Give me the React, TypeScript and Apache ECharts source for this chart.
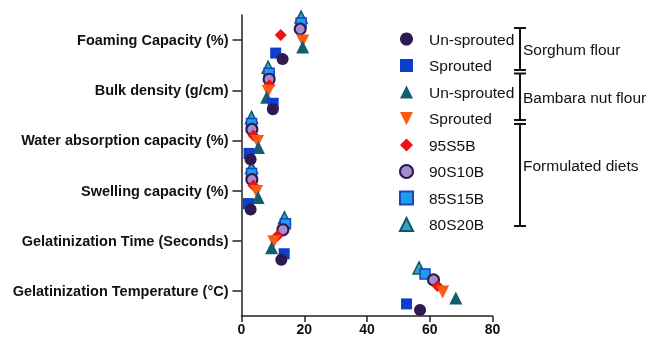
import React, { useEffect, useRef } from "react";
import * as echarts from "echarts";

const categories = [
  "Foaming Capacity (%)",
  "Bulk density (g/cm)",
  "Water absorption capacity (%)",
  "Swelling capacity (%)",
  "Gelatinization Time (Seconds)",
  "Gelatinization Temperature (°C)",
];

const unSproutedSorghum = [13.1, 10.0, 2.9, 2.9, 12.7, 56.9];
const sproutedSorghum = [10.9, 10.1, 2.4, 2.2, 13.6, 52.6];
const unSproutedBambara = [19.5, 8.0, 5.4, 5.3, 9.6, 68.3];
const sproutedBambara = [19.5, 8.5, 5.1, 4.8, 10.3, 64.1];
const diet95S5B = [12.5, 8.9, 3.8, 3.8, 11.5, 62.5];
const diet90S10B = [18.7, 8.8, 3.3, 3.3, 13.2, 61.2];
const diet85S15B = [19.0, 8.8, 3.2, 3.2, 14.0, 58.5];
const diet80S20B = [19.0, 8.5, 3.2, 3.2, 13.7, 56.6];

const legendLabels = ["Un-sprouted", "Sprouted", "Un-sprouted", "Sprouted", "95S5B", "90S10B", "85S15B", "80S20B"];
const groupLabels = ["Sorghum flour", "Bambara nut flour", "Formulated diets"];

const FONT = "'Liberation Sans', Arial, Helvetica, sans-serif";
const DOWN_TRIANGLE = "path://M0,0 L12,0 L6,12 Z";

export default function App() {
  const ref = useRef<HTMLDivElement>(null);
  useEffect(() => {
    if (!ref.current) return;
    const chart = echarts.init(ref.current, undefined, { renderer: "svg" });

    const defs = [
      { id: "Un-sprouted (Sorghum)", data: unSproutedSorghum, symbol: "circle", size: 12, color: "#2e1a4e", border: "#2e1a4e", bw: 0, rot: 0 },
      { id: "Sprouted (Sorghum)", data: sproutedSorghum, symbol: "rect", size: 11, color: "#0b3fcc", border: "#0b3fcc", bw: 0, rot: 0 },
      { id: "Un-sprouted (Bambara)", data: unSproutedBambara, symbol: "triangle", size: 13, color: "#115d72", border: "#115d72", bw: 0, rot: 0 },
      { id: "Sprouted (Bambara)", data: sproutedBambara, symbol: DOWN_TRIANGLE, size: 13, color: "#fb5a12", border: "#fb5a12", bw: 0, rot: 0 },
      { id: "95S5B", data: diet95S5B, symbol: "diamond", size: 12, color: "#ee1111", border: "#ee1111", bw: 0, rot: 0 },
      { id: "90S10B", data: diet90S10B, symbol: "circle", size: 11, color: "#a48ccf", border: "#2e1a4e", bw: 2, rot: 0 },
      { id: "85S15B", data: diet85S15B, symbol: "rect", size: 10, color: "#1e9cf0", border: "#1844c4", bw: 1.5, rot: 0 },
      { id: "80S20B", data: diet80S20B, symbol: "triangle", size: 12, color: "#2fa6bf", border: "#0f566b", bw: 1.5, rot: 0 },
    ];

    const bandPx = 301 / categories.length;
    const series = defs.map((d, s) => {
      const offPx = (3.5 - s) * 6 - 2;
      const off = offPx / bandPx;
      return {
        name: d.id,
        type: "scatter",
        yAxisIndex: 1,
        symbol: d.symbol,
        symbolSize: d.size,
        z: 20 - s,
        itemStyle: { color: d.color, borderColor: d.border, borderWidth: d.bw, opacity: 1 },
        data: d.data.map((v, i) => [v, i + 0.5 + off]),
      };
    });

    const labelMap: Record<string, string> = {};
    defs.forEach((d, i) => (labelMap[d.id] = legendLabels[i]));

    const lineStyle = { stroke: "#111", lineWidth: 2 };
    const bx = 520;
    const cap = 6;
    const bracket = (y1: number, y2: number) => [
      { type: "line", shape: { x1: bx, y1, x2: bx, y2 }, style: lineStyle },
      { type: "line", shape: { x1: bx - cap, y1, x2: bx + cap, y2: y1 }, style: lineStyle },
      { type: "line", shape: { x1: bx - cap, y1: y2, x2: bx + cap, y2 }, style: lineStyle },
    ];
    const groupText = (text: string, y: number) => ({
      type: "text",
      x: 523,
      y,
      style: { text, fill: "#111", font: `15.5px ${FONT}`, textVerticalAlign: "middle", verticalAlign: "middle" },
    });

    chart.setOption({
      animation: false,
      textStyle: { fontFamily: FONT },
      grid: { left: 241.5, top: 15, width: 251, height: 301, containLabel: false },
      xAxis: {
        type: "value",
        min: 0,
        max: 80,
        interval: 20,
        position: "bottom",
        splitLine: { show: false },
        axisLine: { show: true, onZero: false, lineStyle: { color: "#222", width: 1.5 } },
        axisTick: { show: true, length: 6, lineStyle: { color: "#222", width: 1.5 } },
        axisLabel: { color: "#111", fontWeight: "bold", fontSize: 14, margin: 6, fontFamily: FONT },
      },
      yAxis: [
        {
          type: "category",
          data: categories,
          inverse: true,
          boundaryGap: true,
          axisLine: { show: true, onZero: false, lineStyle: { color: "#222", width: 1.5 } },
          axisTick: { show: true, alignWithLabel: true, length: 9, lineStyle: { color: "#222", width: 1.5 } },
          axisLabel: { color: "#111", fontWeight: "bold", fontSize: 14.5, margin: 13, fontFamily: FONT },
          splitLine: { show: false },
        },
        {
          type: "value",
          min: 0,
          max: 6,
          inverse: true,
          show: false,
          splitLine: { show: false },
        },
      ],
      legend: {
        orient: "vertical",
        left: 394,
        top: 26,
        itemWidth: 13,
        itemHeight: 13,
        itemGap: 10.5,
        data: defs.map((d) => ({ name: d.id, icon: d.symbol })),
        formatter: (name: string) => labelMap[name] ?? name,
        textStyle: { fontSize: 15.5, color: "#111", fontFamily: FONT, padding: [0, 0, 0, 11] },
        selectedMode: false,
      },
      graphic: [
        ...bracket(28, 70),
        ...bracket(73.5, 120),
        ...bracket(124, 226),
        groupText(groupLabels[0], 49),
        groupText(groupLabels[1], 97),
        groupText(groupLabels[2], 165),
      ],
      series,
    });
    return () => chart.dispose();
  }, []);
  return <div ref={ref} style={{ position: "fixed", left: 0, top: 0, width: 667, height: 342 }} />;
}
